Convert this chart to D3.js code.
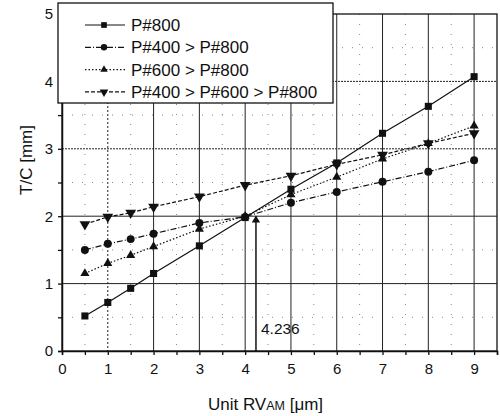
<!DOCTYPE html>
<html>
<head>
<meta charset="utf-8">
<script src="https://cdn.jsdelivr.net/npm/d3@7"></script>
<style>
  body { margin: 0; background: #fff; }
  text { font-family: Arial, "Liberation Sans", sans-serif; fill: #111; }
</style>
</head>
<body>
<div id="chart"></div>
<script>
// data
var xValues = [0.5, 1, 1.5, 2, 3, 4, 5, 6, 7, 8, 9];
var p800 = [0.52, 0.72, 0.93, 1.15, 1.56, 1.98, 2.40, 2.79, 3.23, 3.63, 4.07];
var p400p800 = [1.50, 1.59, 1.66, 1.74, 1.90, 1.99, 2.20, 2.36, 2.51, 2.66, 2.83];
var p600p800 = [1.15, 1.30, 1.42, 1.55, 1.81, 2.00, 2.32, 2.58, 2.85, 3.08, 3.34];
var p400p600p800 = [1.88, 1.99, 2.05, 2.14, 2.29, 2.46, 2.60, 2.77, 2.91, 3.08, 3.23];
var seriesNames = ["P#800", "P#400 > P#800", "P#600 > P#800", "P#400 > P#600 > P#800"];
var xTicks = [0, 1, 2, 3, 4, 5, 6, 7, 8, 9];
var yTicks = [0, 1, 2, 3, 4, 5];
var crossX = 4.236, crossY = 2.0;

var margin = {top: 14, right: 3, bottom: 65, left: 62},
    width = 500 - margin.left - margin.right,
    height = 416 - margin.top - margin.bottom;

var svg = d3.select("#chart")
  .append("svg")
    .attr("width", 500)
    .attr("height", 416)
  .append("g")
    .attr("transform", "translate(" + margin.left + "," + margin.top + ")");

var x = d3.scaleLinear().domain([0, 9.5]).range([0, width]);
var y = d3.scaleLinear().domain([0, 5]).range([height, 0]);

// faint half-step dotted grid
var halves = d3.range(0.5, 9.5, 1);
svg.selectAll(".vhalf").data(halves).enter().append("line")
  .attr("x1", d => x(d)).attr("x2", d => x(d))
  .attr("y1", 0).attr("y2", height)
  .attr("stroke", "#888").attr("stroke-width", 1)
  .attr("stroke-dasharray", "1,9");
svg.selectAll(".hhalf").data(d3.range(0.5, 5, 1)).enter().append("line")
  .attr("x1", 0).attr("x2", width)
  .attr("y1", d => y(d)).attr("y2", d => y(d))
  .attr("stroke", "#888").attr("stroke-width", 1)
  .attr("stroke-dasharray", "1,9");

// main grid
svg.selectAll(".vgrid").data(xTicks.slice(1)).enter().append("line")
  .attr("x1", d => x(d)).attr("x2", d => x(d))
  .attr("y1", 0).attr("y2", height)
  .attr("stroke", "#222").attr("stroke-width", 1)
  .attr("stroke-dasharray", d => d == 1 ? "2,2" : null);
svg.selectAll(".hgrid").data(yTicks.slice(1, 5)).enter().append("line")
  .attr("x1", 0).attr("x2", width)
  .attr("y1", d => y(d)).attr("y2", d => y(d))
  .attr("stroke", "#222").attr("stroke-width", 1)
  .attr("stroke-dasharray", d => d >= 3 ? "2,1" : null);

// frame
svg.append("rect")
  .attr("width", width).attr("height", height)
  .attr("fill", "none").attr("stroke", "#111").attr("stroke-width", 1.3);

// axes
var xAxis = svg.append("g")
  .attr("transform", "translate(0," + height + ")")
  .call(d3.axisBottom(x).tickValues(d3.range(0, 9.6, 0.5))
    .tickFormat(d => Number.isInteger(d) ? d : "").tickSize(4).tickPadding(8));
var yAxis = svg.append("g")
  .call(d3.axisLeft(y).tickValues(d3.range(0, 5.1, 0.5))
    .tickFormat(d => Number.isInteger(d) ? d : "").tickSize(4).tickPadding(5));
[xAxis, yAxis].forEach(function(a) {
  a.select(".domain").attr("stroke", "#111").attr("stroke-width", 1.5);
  a.selectAll(".tick line").attr("stroke", "#111").attr("stroke-width", 1.3);
  a.selectAll("text").style("font-size", "15px").style("font-family", "Arial, 'Liberation Sans', sans-serif").attr("fill", "#111");
});

// axis titles
var xt = svg.append("text")
  .attr("x", width / 2 - 14)
  .attr("y", height + 59)
  .attr("text-anchor", "middle")
  .style("font-size", "17px");
xt.append("tspan").text("Unit RV");
xt.append("tspan").style("font-size", "12.5px").text("AM");
xt.append("tspan").text(" [\u03bcm]");

svg.append("text")
  .attr("transform", "rotate(-90)")
  .attr("x", -146)
  .attr("y", -30)
  .attr("text-anchor", "middle")
  .style("font-size", "17px")
  .text("T/C [mm]");

// series
var series = [
  {name: seriesNames[0], values: p800, dash: null, symbol: d3.symbolSquare, size: 50, rot: 0},
  {name: seriesNames[1], values: p400p800, dash: "6,2,1,2", symbol: d3.symbolCircle, size: 50, rot: 0},
  {name: seriesNames[2], values: p600p800, dash: "1.5,2", symbol: d3.symbolTriangle, size: 36, rot: 0},
  {name: seriesNames[3], values: p400p600p800, dash: "4,2", symbol: d3.symbolTriangle, size: 50, rot: 180}
];

var line = d3.line()
  .x(function(d) { return x(d[0]); })
  .y(function(d) { return y(d[1]); });

series.forEach(function(s) {
  var pts = xValues.map((xv, i) => [xv, s.values[i]]);
  svg.append("path")
    .datum(pts)
    .attr("fill", "none")
    .attr("stroke", "#111")
    .attr("stroke-width", 1.2)
    .attr("stroke-dasharray", s.dash)
    .attr("d", line);
  svg.selectAll(null).data(pts).enter().append("path")
    .attr("d", d3.symbol().type(s.symbol).size(s.size))
    .attr("transform", d => "translate(" + x(d[0]) + "," + y(d[1]) + ") rotate(" + s.rot + ")")
    .attr("fill", "#111");
});

// crossing marker at 4.236
svg.append("line")
  .attr("x1", x(crossX)).attr("x2", x(crossX))
  .attr("y1", y(crossY)).attr("y2", height)
  .attr("stroke", "#111").attr("stroke-width", 1.5);
svg.append("path")
  .attr("d", d3.symbol().type(d3.symbolTriangle).size(30))
  .attr("transform", "translate(" + x(crossX) + "," + (y(crossY) + 4) + ")")
  .attr("fill", "#111");
svg.append("text")
  .attr("x", x(crossX) + 5)
  .attr("y", y(0.25))
  .style("font-size", "15.5px")
  .text(crossX);

// legend
var legend = svg.append("g").attr("transform", "translate(-4,-11)");
legend.append("rect")
  .attr("width", 275).attr("height", 100)
  .attr("fill", "#fff").attr("stroke", "#111").attr("stroke-width", 1.3);
series.forEach(function(s, i) {
  var ly = 22 + i * 22.3;
  legend.append("line")
    .attr("x1", 27).attr("x2", 67)
    .attr("y1", ly).attr("y2", ly)
    .attr("stroke", "#111").attr("stroke-width", 1.2)
    .attr("stroke-dasharray", s.dash);
  legend.append("path")
    .attr("d", d3.symbol().type(s.symbol).size(s.size * 0.65))
    .attr("transform", "translate(46," + ly + ") rotate(" + s.rot + ")")
    .attr("fill", "#111");
  legend.append("text")
    .attr("x", 73).attr("y", ly + 6)
    .style("font-size", "17px")
    .text(s.name);
});
</script>
</body>
</html>
